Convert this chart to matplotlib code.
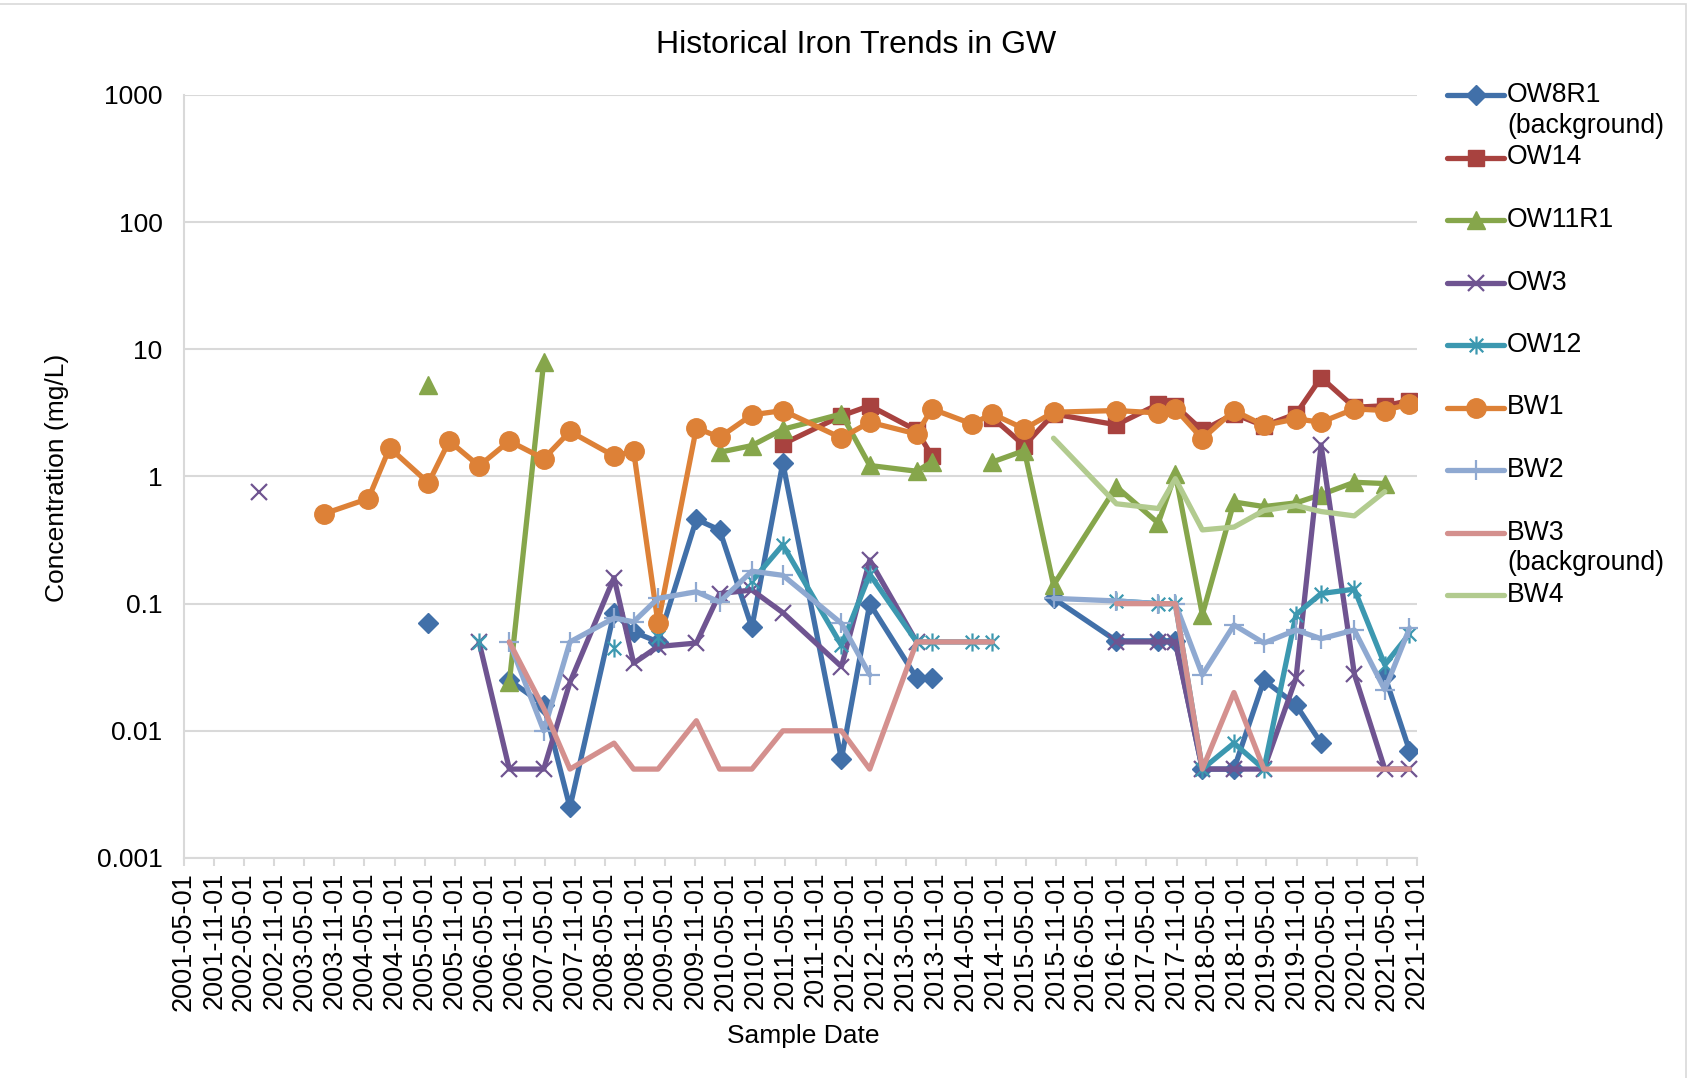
import numpy as np
import pandas as pd
import matplotlib
matplotlib.use('Agg')
import matplotlib.pyplot as plt
from matplotlib.path import Path
from matplotlib.lines import Line2D
from matplotlib.patches import Rectangle
from matplotlib.ticker import FixedLocator, FuncFormatter, NullLocator

plt.rcParams['font.family'] = ['Liberation Sans', 'DejaVu Sans']

N = np.nan

# 샘플 채취일 (공통 날짜 축)
sample_dates = ['2002-08-01', '2003-09-01', '2004-05-25', '2004-10-01', '2005-05-25',
                '2005-09-28', '2006-03-28', '2006-09-28', '2007-04-25', '2007-10-01',
                '2008-06-25', '2008-10-22', '2009-03-19', '2009-11-07', '2010-03-28',
                '2010-10-10', '2011-04-16', '2012-04-06', '2012-09-25', '2013-07-07',
                '2013-10-07', '2014-06-07', '2014-10-10', '2015-04-22', '2015-10-16',
                '2016-11-01', '2017-07-13', '2017-10-25', '2018-04-07', '2018-10-16',
                '2019-04-16', '2019-10-28', '2020-03-28', '2020-10-16', '2021-04-19',
                '2021-09-16']

ow8r1 = [N, N, N, N, 0.07, N, N, 0.025, 0.016, 0.0025, 0.085, 0.06, 0.05, 0.46, 0.38,
         0.065, 1.28, 0.006, 0.1, 0.026, 0.026, N, N, N, 0.11, 0.051, 0.051, 0.051,
         0.005, 0.005, 0.025, 0.016, 0.008, N, 0.027, 0.007]
ow14 = [N, N, N, N, N, N, N, N, N, N, N, N, N, N, N,
        N, 1.8, 3.0, 3.6, 2.3, 1.45, N, 2.9, 1.75, 3.1, 2.55, 3.7, 3.6,
        2.3, 3.1, 2.5, 3.1, 6.0, 3.5, 3.6, 3.95]
ow11r1 = [N, N, N, N, 5.2, N, N, 0.024, 8.0, N, N, N, N, N, 1.55,
          1.75, 2.35, 3.1, 1.22, 1.1, 1.3, N, 1.3, 1.6, 0.14, 0.83, 0.43, 1.05,
          0.082, 0.63, 0.58, 0.62, 0.72, 0.9, 0.88, N]
ow3 = [0.75, N, N, N, N, N, 0.05, 0.005, 0.005, 0.024, 0.16, 0.034, 0.046, 0.049, 0.12,
       0.128, 0.085, 0.032, 0.22, 0.05, N, N, N, N, N, 0.05, 0.05, 0.05,
       0.005, 0.005, 0.005, 0.026, 1.77, 0.028, 0.005, 0.005]
ow12 = [N, N, N, N, N, N, 0.05, N, N, N, 0.045, N, 0.055, N, N,
        0.15, 0.29, 0.047, 0.17, 0.05, 0.05, 0.05, 0.05, N, N, 0.105, 0.1, 0.1,
        0.005, 0.008, 0.005, 0.082, 0.12, 0.13, 0.033, 0.058]
bw1 = [N, 0.51, 0.67, 1.68, 0.89, 1.9, 1.21, 1.9, 1.38, 2.26, 1.45, 1.58, 0.07, 2.41, 2.03,
       3.05, 3.3, 2.01, 2.67, 2.16, 3.4, 2.59, 3.1, 2.37, 3.2, 3.3, 3.16, 3.4,
       1.98, 3.3, 2.52, 2.84, 2.67, 3.4, 3.3, 3.72]
bw2 = [N, N, N, N, N, N, N, 0.05, 0.01, 0.05, 0.077, 0.072, 0.11, 0.124, 0.103,
       0.18, 0.167, 0.07, 0.0275, N, N, N, N, N, 0.11, 0.105, 0.1, 0.1,
       0.0275, 0.068, 0.049, 0.062, 0.053, 0.062, 0.021, 0.064]
bw3 = [N, N, N, N, N, N, N, 0.05, 0.015, 0.005, 0.008, 0.005, 0.005, 0.012, 0.005,
       0.005, 0.01, 0.01, 0.005, 0.05, 0.05, 0.05, 0.05, N, N, 0.1, 0.1, 0.1,
       0.005, 0.02, 0.005, 0.005, 0.005, 0.005, 0.005, 0.005]
bw4 = [N, N, N, N, N, N, N, N, N, N, N, N, N, N, N,
       N, N, N, N, N, N, N, N, N, 2.0, 0.61, 0.56, 0.96,
       0.38, 0.40, 0.54, 0.59, 0.53, 0.49, 0.76, N]

series_names = ['OW8R1\n(background)', 'OW14', 'OW11R1', 'OW3', 'OW12',
                'BW1', 'BW2', 'BW3\n(background)', 'BW4']
series_values = [ow8r1, ow14, ow11r1, ow3, ow12, bw1, bw2, bw3, bw4]
y_ticks = [0.001, 0.01, 0.1, 1, 10, 100, 1000]

# 엑셀 별표(*) 마커 모양
asterisk = Path([(0, -1), (0, 1), (-0.75, -0.75), (0.75, 0.75), (-0.75, 0.75), (0.75, -0.75)],
                [Path.MOVETO, Path.LINETO, Path.MOVETO, Path.LINETO, Path.MOVETO, Path.LINETO])

styles = [
    dict(color='#4170a9', marker='D', ms=10),
    dict(color='#a8423f', marker='s', ms=12),
    dict(color='#86a64b', marker='^', ms=13),
    dict(color='#6f5491', marker='x', ms=12, mew=1.6),
    dict(color='#3c98b0', marker=asterisk, ms=13, mew=1.6),
    dict(color='#dd8137', marker='o', ms=14),
    dict(color='#8fa9d1', marker='+', ms=14, mew=1.6),
    dict(color='#d4908e', marker=None),
    dict(color='#b2cb8f', marker=None),
]
line_w = 3.8

dates = pd.to_datetime(sample_dates)

fig = plt.figure(figsize=(16.91, 10.78), dpi=100)
ax = fig.add_axes([0.1088, 0.2041, 0.7292, 0.7078])

for vals, st in zip(series_values, styles):
    ax.plot(dates, vals, lw=line_w, solid_capstyle='round', **st)

ax.set_yscale('log')
ax.set_ylim(0.001, 1000)
ax.yaxis.set_major_locator(FixedLocator(y_ticks))
ax.yaxis.set_minor_locator(NullLocator())
ax.yaxis.set_major_formatter(FuncFormatter(lambda v, p: '%g' % v))
ax.grid(axis='y', color='#d9d9d9', lw=1.5)
ax.set_axisbelow(True)

x_ticks = pd.date_range('2001-05-01', '2021-11-01', freq='6MS')
ax.set_xlim(x_ticks[0], x_ticks[-1])
ax.set_xticks(x_ticks)
ax.set_xticklabels([d.strftime('%Y-%m-%d') for d in x_ticks], rotation=90)
ax.xaxis.set_minor_locator(NullLocator())

for s in ['top', 'right']:
    ax.spines[s].set_visible(False)
for s in ['left', 'bottom']:
    ax.spines[s].set_color('#d9d9d9')
    ax.spines[s].set_linewidth(1.5)
ax.tick_params(axis='x', length=6, color='#d9d9d9', width=1.5, labelsize=19.5, pad=4)
ax.tick_params(axis='y', length=0, labelsize=19, pad=15.5)

fig.text(0.506, 1 - 45 / 1078, 'Historical Iron Trends in GW', ha='center', va='center', fontsize=23)
fig.text(0.034, 0.557, 'Concentration (mg/L)', ha='center', va='center', rotation=90, fontsize=19)
fig.text(0.475, 0.039, 'Sample Date', ha='center', va='center', fontsize=19)

# 범례 (엑셀 스타일, 수동 배치)
lx0, lx1, tx = 1447 / 1691, 1504 / 1691, 1507 / 1691
for i, (name, st) in enumerate(zip(series_names, styles)):
    y = 1 - (95 + i * 62.5) / 1078
    fig.add_artist(Line2D([lx0, lx1], [y, y], transform=fig.transFigure,
                          color=st['color'], lw=line_w, solid_capstyle='round'))
    if st['marker'] is not None:
        fig.add_artist(Line2D([(lx0 + lx1) / 2], [y], transform=fig.transFigure, lw=0,
                              color=st['color'], marker=st['marker'], ms=st['ms'],
                              mew=st.get('mew', 1.0)))
    for j, line in enumerate(name.split('\n')):
        fig.text(tx, y - j * 31 / 1078, line, ha='left', va='center', fontsize=19.2)

fig.add_artist(Rectangle((-0.01, -0.01), 1563 / 1568 + 0.01, 0.996 + 0.01,
                         transform=fig.transFigure, fill=False, ec='#d9d9d9', lw=1.2))

fig.savefig('out.png', dpi=100)
